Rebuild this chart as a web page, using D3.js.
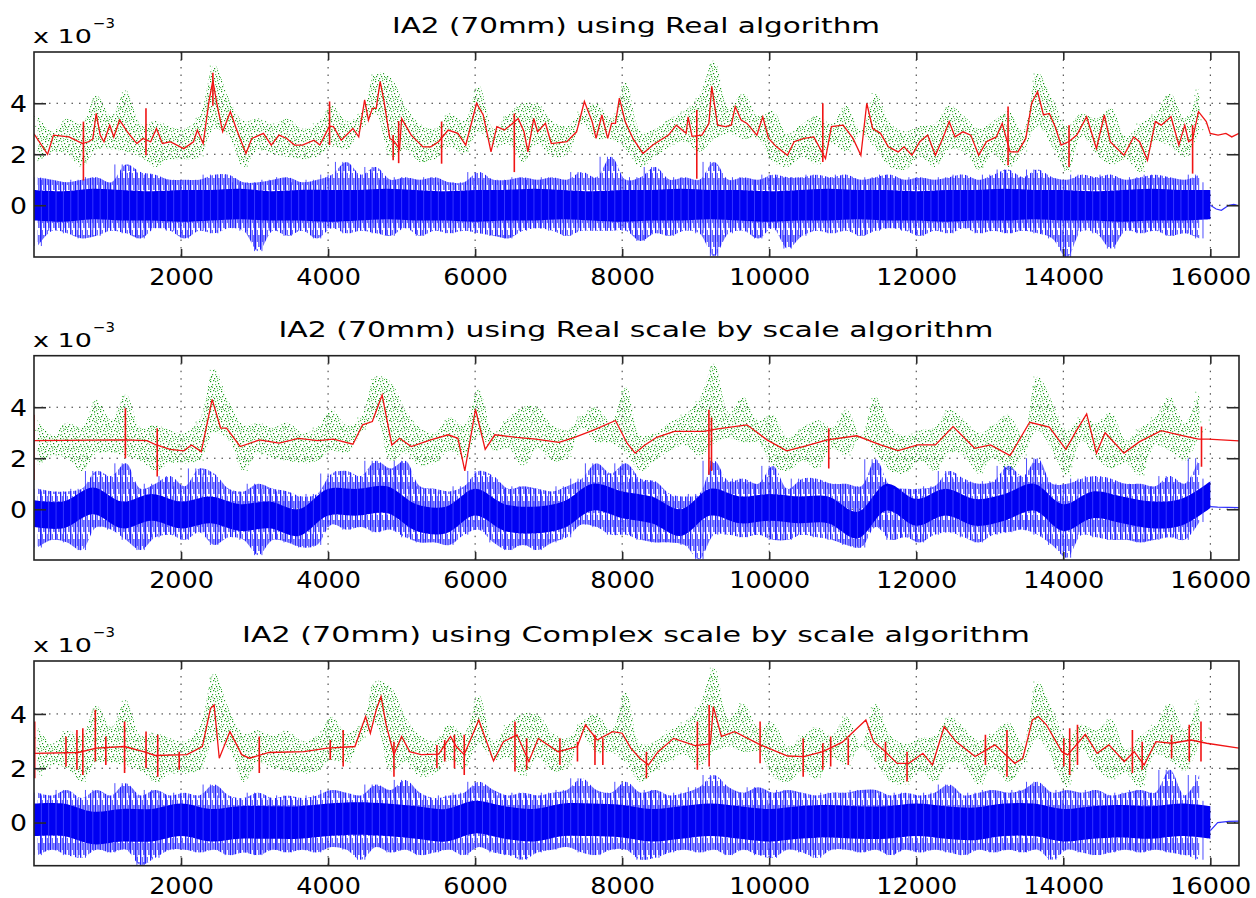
<!DOCTYPE html>
<html><head><meta charset="utf-8">
<script src="https://cdn.jsdelivr.net/npm/d3@7"></script>
<style>body{margin:0;background:#fff}svg{display:block}</style>
</head><body>
<svg id="c" width="1256" height="898"></svg>
<script>
// ---------- data (values in units of 1e-3) ----------
const titles = ["IA2 (70mm) using Real algorithm",
                "IA2 (70mm) using Real scale by scale algorithm",
                "IA2 (70mm) using Complex scale by scale algorithm"];
const xTicks = [2000,4000,6000,8000,10000,12000,14000,16000];
const yTicks = [0,2,4];

// measured samples (green dots): band extremes every 100 samples, alternating high / low
const green = [3.5,1.7,2.9,2.1,3.4,2.0,3.2,1.5,4.3,2.2,
3.5,2.2,4.5,2.1,3.2,1.9,3.3,1.5,3.1,1.8,
3.0,1.8,3.5,1.9,5.5,3.0,4.2,2.7,3.3,1.5,
3.4,2.2,3.2,2.0,3.4,1.9,3.0,1.8,3.2,1.9,
3.9,2.3,3.3,2.2,3.6,3.0,5.2,3.6,5.0,1.9,
3.9,2.2,3.2,1.7,3.0,1.8,3.6,2.3,3.3,2.0,
4.7,2.9,3.0,2.3,3.6,2.4,4.0,1.7,4.0,2.4,
3.3,1.9,3.1,2.0,3.7,3.2,4.0,2.6,3.4,2.6,
4.8,2.2,2.9,1.5,3.0,1.9,3.4,2.3,3.7,2.5,
4.3,2.1,5.7,2.6,3.8,2.8,4.4,2.6,3.5,2.6,
3.7,1.7,2.8,1.5,3.2,1.9,3.5,1.6,3.2,2.4,
3.9,2.1,2.9,2.8,4.4,2.2,3.2,1.5,2.9,1.4,
3.1,1.9,3.2,1.5,3.9,2.2,3.5,2.1,3.0,1.4,
3.3,2.0,3.7,1.5,2.9,2.1,5.2,3.1,4.2,2.3,
3.1,1.3,3.6,2.7,3.4,2.0,3.8,1.6,2.7,1.8,
3.2,1.3,3.6,2.5,4.4,2.3,3.4,1.9,4.6,2.9,
3.6];

// ---- panel 1: Real algorithm ----
const red1 = [[0,2.8],[185,2.0],[265,2.75],[476,2.68],[660,2.42],[740,2.49],[800,2.6],[846,3.6],[900,2.75],[952,2.49],[1030,3.14],[1085,2.68],[1164,3.34],[1270,2.88],[1400,2.42],[1480,2.62],[1587,2.49],[1666,3.01],[1746,2.42],[1851,2.49],[2037,2.22],[2169,2.49],[2222,2.95],[2301,2.42],[2380,4.07],[2433,4.9],[2486,4.0],[2566,2.88],[2671,3.67],[2750,3.01],[2883,2.03],[2962,2.62],[3121,2.82],[3227,2.36],[3333,2.75],[3438,2.62],[3544,2.36],[3650,2.36],[3809,2.55],[3888,2.36],[4020,3.1],[4073,3.08],[4179,2.55],[4338,3.01],[4417,2.68],[4497,4.13],[4549,3.34],[4602,3.8],[4655,3.8],[4708,4.86],[4761,4.07],[4840,2.62],[4900,2.5],[4973,2.2],[5000,3.4],[5052,3.14],[5131,2.75],[5290,2.29],[5396,2.29],[5502,2.49],[5634,2.95],[5766,2.82],[5872,2.36],[6020,4.0],[6110,3.54],[6216,2.09],[6295,3.08],[6400,2.95],[6480,3.14],[6586,3.4],[6665,2.88],[6718,2.09],[6797,3.4],[6850,2.88],[6956,3.21],[7036,2.42],[7247,2.49],[7380,2.88],[7486,4.07],[7592,3.28],[7645,2.62],[7724,3.54],[7803,2.62],[7856,3.21],[7909,3.21],[7962,4.2],[8041,3.28],[8150,2.6],[8283,2.03],[8417,2.36],[8630,2.75],[8737,3.14],[8870,2.82],[8897,3.47],[8950,2.7],[9084,2.75],[9180,3.2],[9218,4.66],[9298,3.14],[9404,3.08],[9484,3.14],[9538,3.87],[9618,3.34],[9698,3.21],[9832,2.75],[9912,3.47],[9992,2.62],[10099,2.29],[10248,1.96],[10339,2.49],[10473,2.62],[10606,2.68],[10766,1.83],[10846,3.08],[11006,3.14],[11140,2.62],[11247,1.96],[11327,4.0],[11407,3.01],[11514,2.82],[11620,2.29],[11754,2.09],[11834,2.29],[11941,1.96],[12048,2.49],[12155,2.75],[12261,1.96],[12368,2.68],[12448,3.28],[12528,2.68],[12635,2.88],[12742,2.75],[12849,1.96],[12955,2.49],[13089,2.68],[13169,3.21],[13276,2.09],[13383,2.09],[13490,2.62],[13570,4.0],[13650,4.46],[13730,3.54],[13810,3.6],[13890,3.08],[13970,2.36],[14078,2.5],[14184,2.75],[14318,3.47],[14451,2.22],[14558,3.54],[14638,2.49],[14825,1.96],[14958,2.68],[15038,2.49],[15145,1.76],[15252,3.28],[15332,3.14],[15465,3.47],[15572,2.36],[15652,3.14],[15705,2.49],[15759,2.6],[15839,3.67],[15945,3.28],[15998,2.82],[16105,2.75],[16212,2.82],[16292,2.68],[16390,2.82]];
const redSpikes1 = [[672,3.28,0.97],[1523,3.8,1.96],[2433,5.2,3.9],[4020,4.07,2.36],[4885,2.75,1.76],[4960,3.3,1.65],[5544,3.28,1.63],[6533,3.6,1.3],[9015,3.74,1.04],[10729,4.0,1.7],[13249,3.87,1.57],[14078,3.14,1.5],[15759,3.14,1.24]];
const blue1 = [1.1,-1.6,1.0,-1.0,0.9,-1.1,1.0,-1.3,1.1,-1.2,
0.9,-1.0,1.6,-1.1,1.3,-1.3,1.2,-0.9,1.0,-1.0,
1.0,-1.3,1.0,-1.0,1.2,-1.1,1.2,-0.9,0.9,-1.0,
0.9,-1.8,1.0,-1.0,1.1,-1.2,0.9,-1.0,1.0,-1.3,
1.2,-0.9,1.7,-1.1,1.2,-1.0,1.5,-1.1,1.0,-1.2,
1.1,-0.9,1.0,-1.2,1.1,-1.0,0.9,-1.1,0.9,-1.0,
1.3,-1.1,1.0,-1.2,1.0,-1.3,1.1,-1.0,1.0,-0.9,
1.1,-1.0,1.0,-1.2,1.3,-1.0,1.1,-1.0,1.9,-1.0,
1.0,-1.0,1.1,-1.4,1.5,-1.1,1.0,-1.2,1.1,-1.0,
1.0,-1.1,1.7,-2.0,1.0,-1.1,1.1,-1.0,1.0,-1.3,
1.2,-0.9,1.1,-1.7,1.1,-1.2,1.2,-1.0,1.1,-1.1,
1.2,-1.0,1.0,-1.2,1.1,-1.0,1.2,-0.9,1.0,-1.0,
1.1,-1.2,1.0,-1.0,1.1,-1.1,1.2,-0.9,1.0,-1.1,
1.2,-1.0,1.4,-1.1,1.1,-1.0,1.4,-1.1,1.1,-1.3,
1.0,-2.05,1.2,-1.0,1.1,-1.1,1.2,-1.7,1.0,-1.0,
1.1,-1.1,1.2,-1.0,1.1,-1.2,1.0,-1.1,1.2,-1.3,
0.9];
const blueCoreHi1 = [0.6,0.55,0.65,0.6,0.55,0.6,0.6,0.65,0.55,0.6,0.6,0.6,0.65,0.6,0.55,0.6,0.6,0.65,0.6,0.55,0.6,0.6,0.65,0.6,0.6,0.55,0.6,0.65,0.6,0.6,0.55,0.6,0.6,0.65,0.6,0.6,0.55,0.6,0.65,0.6,0.6];
const blueCoreLo1 = [-0.6,-0.65,-0.55,-0.6,-0.6,-0.65,-0.6,-0.55,-0.6,-0.6,-0.65,-0.6,-0.55,-0.6,-0.6,-0.65,-0.6,-0.6,-0.55,-0.6,-0.65,-0.6,-0.6,-0.55,-0.6,-0.65,-0.6,-0.6,-0.55,-0.6,-0.6,-0.65,-0.6,-0.6,-0.55,-0.6,-0.6,-0.65,-0.6,-0.6,-0.55];
const blueTail1 = [[16000,0],[16080,-0.15],[16150,-0.2],[16250,0.0],[16320,0.03],[16390,-0.02]];

// ---- panel 2: Real scale by scale ----
const red2 = [[0,2.69],[1243,2.72],[1534,2.69],[1666,2.52],[1851,2.35],[2037,2.29],[2143,2.52],[2275,2.26],[2423,4.31],[2539,3.18],[2619,3.18],[2804,2.46],[3068,2.72],[3333,2.59],[3597,2.78],[3862,2.69],[4073,2.75],[4338,2.55],[4470,3.31],[4602,3.44],[4735,4.48],[4867,2.52],[4973,2.78],[5131,2.46],[5396,2.72],[5634,2.92],[5766,2.78],[5860,1.5],[6005,3.92],[6137,2.35],[6269,2.92],[6560,2.82],[6824,2.75],[7141,2.62],[7353,2.82],[7618,3.11],[7909,3.48],[8067,2.59],[8176,2.2],[8310,2.52],[8470,2.82],[8710,3.05],[9110,3.05],[9298,3.15],[9698,3.31],[9970,2.72],[10238,2.29],[10500,2.48],[10790,2.72],[11190,2.88],[11514,2.52],[11754,2.3],[12021,2.52],[12261,2.52],[12501,3.24],[12795,2.39],[13009,2.52],[13276,2.1],[13543,3.41],[13810,3.22],[14035,2.35],[14185,3.11],[14318,3.74],[14451,2.2],[14569,3.0],[14825,2.2],[15038,2.65],[15332,3.08],[15572,2.92],[15839,2.75],[15972,2.75],[16390,2.68]];
const redSpikes2 = [[0,3.7,1.15],[1243,3.96,2.0],[1676,3.18,1.28],[9180,3.9,1.35],[9215,3.6,1.5],[10810,3.18,1.6],[15880,3.24,1.67]];
const blue2 = [0.8,-1.5,0.7,-1.2,0.7,-1.3,0.8,-1.6,1.5,-0.7,
1.3,-0.8,1.8,-1.2,0.8,-1.6,1.0,-1.1,1.3,-1.0,
0.9,-1.2,1.6,-0.9,1.4,-1.4,0.8,-1.1,0.7,-1.2,
1.0,-1.8,0.8,-1.2,0.7,-1.3,0.5,-1.5,0.6,-1.4,
1.4,-0.6,1.5,-0.8,1.3,-0.7,1.9,-0.9,1.6,-0.8,
1.9,-1.1,0.9,-1.3,0.8,-1.3,0.7,-1.4,0.9,-1.0,
1.5,-0.8,1.3,-1.3,0.8,-1.6,0.9,-1.4,0.8,-1.6,
0.7,-1.3,0.9,-1.1,1.2,-0.6,1.8,-0.7,1.4,-1.0,
1.8,-1.0,1.2,-1.2,1.1,-1.3,0.6,-1.3,0.5,-1.4,
0.6,-1.96,1.9,-1.0,1.1,-1.0,1.2,-1.1,1.0,-1.0,
1.7,-1.2,0.8,-1.2,1.2,-1.0,1.2,-1.1,1.0,-1.2,
1.0,-1.4,0.9,-1.5,1.96,-0.7,0.9,-1.2,0.8,-1.1,
0.8,-1.3,0.9,-1.0,1.5,-0.9,1.2,-1.1,1.0,-1.3,
1.1,-1.0,1.7,-0.9,1.3,-0.8,2.0,-1.0,1.0,-1.4,
1.0,-1.9,1.2,-1.0,1.3,-1.1,1.2,-1.2,1.0,-1.2,
1.0,-1.3,0.9,-1.2,1.3,-1.1,1.0,-1.2,2.0,-0.5,
1.2];
const blueCoreHi2 = [0.35,0.3,0.85,0.3,0.6,0.3,0.5,0.2,0.3,0.0,0.8,0.8,0.9,0.2,0.1,0.8,0.2,0.1,0.3,1.0,0.7,0.5,0.0,0.8,0.5,0.6,0.5,0.5,-0.1,1.0,0.4,0.8,0.4,0.6,1.0,0.2,0.7,0.5,0.3,0.4,1.1];
const blueCoreLo2 = [-0.7,-0.75,-0.2,-0.75,-0.45,-0.75,-0.55,-0.85,-0.75,-1.05,-0.25,-0.25,-0.15,-0.85,-0.95,-0.25,-0.85,-0.95,-0.75,-0.05,-0.35,-0.55,-1.05,-0.25,-0.55,-0.45,-0.55,-0.55,-1.15,-0.05,-0.65,-0.25,-0.65,-0.45,-0.05,-0.85,-0.35,-0.55,-0.75,-0.65,0.05];
const blueTail2 = [[16000,0.1],[16100,0.08],[16390,0.06]];

// ---- panel 3: Complex scale by scale ----
const red3 = [[0,2.55],[600,2.58],[850,2.74],[1230,2.8],[1490,2.61],[1650,2.47],[2080,2.5],[2290,2.8],[2400,4.2],[2450,4.33],[2520,2.37],[2665,3.35],[2825,2.5],[2930,2.37],[3195,2.58],[3670,2.61],[3990,2.74],[4365,2.8],[4510,3.9],[4575,3.29],[4655,4.15],[4720,4.64],[4790,3.6],[4895,2.5],[5000,3.17],[5110,2.61],[5265,2.5],[5505,2.52],[5665,3.17],[5745,2.8],[5850,2.5],[6050,3.78],[6250,2.27],[6385,2.98],[6570,3.23],[6730,2.25],[6860,3.1],[7130,2.61],[7390,2.8],[7500,3.6],[7660,3.04],[7870,3.35],[8000,3.29],[8117,2.74],[8240,2.37],[8357,2.12],[8490,2.61],[8700,3.1],[8990,2.83],[9200,2.9],[9240,4.27],[9350,3.17],[9530,3.35],[9880,2.86],[10250,2.45],[10470,2.43],[10730,2.61],[10995,2.96],[11315,3.78],[11420,2.98],[11580,2.61],[11740,2.18],[11900,2.18],[12090,2.55],[12220,2.12],[12380,3.53],[12540,2.98],[12800,2.43],[13070,2.86],[13340,2.18],[13450,2.37],[13580,3.78],[13660,3.9],[13770,3.6],[13980,2.61],[14060,2.49],[14300,3.25],[14460,2.55],[14620,2.86],[14830,2.25],[14965,2.61],[15100,2.12],[15260,2.98],[15470,2.92],[15740,3.04],[15950,2.92],[16390,2.74]];
const redSpikes3 = [[10,3.72,1.63],[435,3.17,2.06],[584,3.41,1.94],[664,3.47,1.75],[834,4.15,2.25],[977,3.17,2.12],[1232,3.72,1.82],[1524,3.35,2.0],[1683,3.23,1.69],[1975,2.61,1.94],[3064,3.17,1.82],[4030,3.04,2.31],[4205,3.41,2.06],[4896,2.98,1.69],[5480,2.86,2.0],[5586,3.04,2.25],[5719,3.23,2.0],[5852,3.23,1.75],[6542,3.72,1.88],[6701,3.1,1.94],[7153,3.1,2.12],[7392,2.98,2.25],[7630,3.23,2.12],[7737,3.1,2.12],[8330,2.61,1.63],[9023,3.72,1.94],[9183,4.33,2.06],[9876,3.72,2.18],[10462,3.1,1.69],[10729,2.92,1.94],[10836,3.17,2.06],[11075,3.1,2.12],[11582,2.98,2.25],[11875,2.61,1.51],[12941,3.23,2.12],[13234,3.41,1.69],[14007,3.1,2.06],[14087,3.47,1.75],[14193,3.6,2.12],[14940,3.41,1.82],[15073,2.98,1.94],[15473,3.23,2.37],[15713,3.6,2.25],[15873,3.72,2.25]];
const blue3 = [1.1,-1.2,1.0,-1.0,1.2,-1.2,0.9,-1.3,1.2,-1.0,
1.0,-1.1,1.45,-1.0,1.0,-1.56,1.2,-1.3,1.0,-1.0,
1.1,-1.0,1.0,-1.1,1.4,-1.0,1.0,-1.2,0.9,-1.1,
1.1,-1.2,0.9,-1.0,1.0,-1.1,0.9,-1.0,1.0,-1.1,
1.2,-0.9,1.1,-1.0,1.0,-1.37,1.4,-0.9,1.2,-1.1,
1.57,-1.0,1.1,-1.2,0.9,-1.1,1.0,-1.0,1.1,-1.2,
1.5,-0.9,1.2,-1.1,1.0,-1.2,1.1,-1.37,1.0,-1.1,
1.1,-1.0,1.2,-0.9,1.63,-1.1,1.2,-1.2,1.1,-1.0,
1.5,-1.0,1.1,-1.37,1.2,-1.3,1.0,-1.1,1.1,-1.0,
1.3,-1.1,1.75,-1.0,1.3,-1.2,1.1,-1.0,1.3,-1.2,
1.1,-1.3,1.2,-1.0,1.1,-1.1,1.0,-1.3,1.1,-1.0,
1.1,-1.0,1.2,-1.1,1.2,-1.0,1.0,-1.2,1.1,-1.0,
1.0,-1.1,1.1,-1.0,1.4,-1.1,1.0,-1.2,1.1,-1.0,
1.2,-1.1,1.1,-1.0,1.2,-1.1,1.5,-1.0,1.1,-1.37,
1.2,-1.0,1.1,-1.1,1.2,-1.2,1.0,-1.1,1.1,-1.0,
1.2,-1.1,1.1,-1.0,1.94,-1.1,1.0,-1.2,1.75,-1.37,
0.8];
const blueCoreHi3 = [0.7,0.7,0.4,0.5,0.5,0.7,0.5,0.6,0.6,0.6,0.7,0.75,0.7,0.6,0.5,0.8,0.6,0.5,0.7,0.7,0.65,0.5,0.6,0.7,0.6,0.5,0.6,0.65,0.6,0.6,0.7,0.6,0.55,0.7,0.7,0.5,0.6,0.65,0.6,0.7,0.6];
const blueCoreLo3 = [-0.5,-0.5,-0.8,-0.7,-0.7,-0.5,-0.7,-0.6,-0.6,-0.6,-0.5,-0.45,-0.5,-0.6,-0.7,-0.4,-0.6,-0.7,-0.5,-0.5,-0.55,-0.7,-0.6,-0.5,-0.6,-0.7,-0.6,-0.55,-0.6,-0.6,-0.5,-0.6,-0.65,-0.5,-0.5,-0.7,-0.6,-0.55,-0.6,-0.5,-0.6];
const blueTail3 = [[16000,-0.3],[16100,0.0],[16250,0.04],[16390,0.05]];

// ---------- layout & style ----------
const panels = [
  {title: titles[0], red: red1, spikes: redSpikes1, blue: blue1, coreHi: blueCoreHi1, coreLo: blueCoreLo1, tail: blueTail1},
  {title: titles[1], red: red2, spikes: redSpikes2, blue: blue2, coreHi: blueCoreHi2, coreLo: blueCoreLo2, tail: blueTail2},
  {title: titles[2], red: red3, spikes: redSpikes3, blue: blue3, coreHi: blueCoreHi3, coreLo: blueCoreLo3, tail: blueTail3}
];
const layout = [
  {top: 52,    bottom: 257,   ymin: -2.03, ymax: 6.01, titleLen: 488},
  {top: 355.7, bottom: 560,   ymin: -1.99, ymax: 6.02, titleLen: 715},
  {top: 661,   bottom: 865.7, ymin: -1.59, ymax: 5.95, titleLen: 788}
];
const FONT = "'DejaVu Sans', Verdana, sans-serif";
const LEFT = 34, RIGHT = 1239;
const GREEN_STEP = 100, BLUE_STEP = 100, CORE_STEP = 400;

const svg = d3.select('#c');
svg.append('rect').attr('width',1256).attr('height',898).attr('fill','#fff');
const defs = svg.append('defs');

// texture for the green scatter band
const gp = defs.append('pattern').attr('id','greenDots').attr('patternUnits','userSpaceOnUse')
  .attr('width',11).attr('height',10);
[[1,1,'#139613'],[6,1,'#4cbc4c'],[9,3,'#118f11'],[3,4,'#2fa82f'],[7,6,'#1a9c1a'],
 [0,7,'#5ec45e'],[5,8,'#159515'],[10,9,'#3cb23c'],[4,0,'#22a222'],[8,0,'#55c055'],
 [2,6,'#1c991c'],[6,4,'#66c866'],[10,6,'#27a027'],[1,9,'#3fb53f'],[8,8,'#7fd27f']]
  .forEach(([a,b,c]) => gp.append('rect').attr('x',a).attr('y',b).attr('width',1.2).attr('height',1.2).attr('fill',c));
// texture for the blue noise fringe
const bp = defs.append('pattern').attr('id','blueHatch').attr('patternUnits','userSpaceOnUse')
  .attr('width',5).attr('height',19);
[[0,0,1.3,19,'#1e1eff'],[1.8,2,1,12,'#4848ff'],[3.3,7,1.2,12,'#2a2aff']]
  .forEach(([a,b,w,h,c]) => bp.append('rect').attr('x',a).attr('y',b).attr('width',w).attr('height',h).attr('fill',c));

const x = d3.scaleLinear().domain([0, 16390]).range([LEFT, RIGHT]);
// reshape an alternating high/low list into [x, high, low] rows
const envelope = (arr, step) => d3.range(Math.floor(arr.length / 2)).map(j => [(2 * j + 0.5) * step, arr[2 * j], arr[2 * j + 1]]);

panels.forEach((p, k) => {
  const L = layout[k];
  const y = d3.scaleLinear().domain([L.ymin, L.ymax]).range([L.bottom, L.top]);
  const clipId = 'clip' + k;
  svg.append('clipPath').attr('id', clipId).append('rect')
    .attr('x', LEFT).attr('y', L.top).attr('width', RIGHT - LEFT).attr('height', L.bottom - L.top);
  const plot = svg.append('g').attr('clip-path', `url(#${clipId})`);

  // grid
  plot.selectAll('.vg').data(xTicks).join('line')
    .attr('x1', d => x(d)).attr('x2', d => x(d)).attr('y1', L.top).attr('y2', L.bottom)
    .attr('stroke', '#333').attr('stroke-width', 1).attr('stroke-dasharray', '1.5,6');
  plot.selectAll('.hg').data(yTicks).join('line')
    .attr('x1', LEFT).attr('x2', RIGHT).attr('y1', d => y(d)).attr('y2', d => y(d))
    .attr('stroke', '#333').attr('stroke-width', 1).attr('stroke-dasharray', '1.5,6');

  // green measured samples: scatter band between extremes + sparse outliers
  const areaEnv = d3.area().x(d => x(d[0])).y0(d => y(d[2])).y1(d => y(d[1])).curve(d3.curveCatmullRom);
  plot.append('path').datum(envelope(green, GREEN_STEP)).attr('d', areaEnv).attr('fill', 'url(#greenDots)');
  plot.append('path').datum(green)
    .attr('d', d3.line().x((d, i) => x(i * GREEN_STEP)).y(d => y(d)))
    .attr('fill', 'none').attr('stroke', '#3cb43c').attr('stroke-width', 1.1)
    .attr('stroke-dasharray', '1,9').attr('opacity', 0.8);

  // blue residual: fringe, core, spikes
  plot.append('path').datum(envelope(p.blue, BLUE_STEP)).attr('d', areaEnv).attr('fill', 'url(#blueHatch)');
  const core = p.coreHi.map((h, i) => [i * CORE_STEP, h, p.coreLo[i]]);
  plot.append('path').datum(core)
    .attr('d', d3.area().x(d => x(d[0])).y0(d => y(d[2])).y1(d => y(d[1])).curve(d3.curveCatmullRom))
    .attr('fill', '#0000f2');
  plot.selectAll('.bs').data(d3.pairs(p.blue)).join('line')
    .attr('x1', (d, i) => x(i * BLUE_STEP)).attr('x2', (d, i) => x(i * BLUE_STEP))
    .attr('y1', d => y(d[0])).attr('y2', d => y(d[1]))
    .attr('stroke', '#3a3aff').attr('stroke-width', 0.9);
  plot.append('path').datum(p.tail)
    .attr('d', d3.line().x(d => x(d[0])).y(d => y(d[1])))
    .attr('fill', 'none').attr('stroke', '#3030ff').attr('stroke-width', 1.2);

  // red fit
  plot.append('path').datum(p.red)
    .attr('d', d3.line().x(d => x(d[0])).y(d => y(d[1])))
    .attr('fill', 'none').attr('stroke', '#f01414').attr('stroke-width', 1.3);
  plot.selectAll('.sp').data(p.spikes).join('line')
    .attr('x1', d => x(d[0])).attr('x2', d => x(d[0]))
    .attr('y1', d => y(d[1])).attr('y2', d => y(d[2]))
    .attr('stroke', '#f01414').attr('stroke-width', 1.6);

  // axes
  const gb = svg.append('g').attr('transform', `translate(0,${L.bottom})`)
    .call(d3.axisBottom(x).tickValues(xTicks).tickFormat(d3.format('d')).tickSize(-8).tickSizeOuter(0));
  const gt = svg.append('g').attr('transform', `translate(0,${L.top})`)
    .call(d3.axisTop(x).tickValues(xTicks).tickFormat('').tickSize(-8).tickSizeOuter(0));
  const gl = svg.append('g').attr('transform', `translate(${LEFT},0)`)
    .call(d3.axisLeft(y).tickValues(yTicks).tickFormat(d3.format('d')).tickSize(-12).tickSizeOuter(0));
  const gr = svg.append('g').attr('transform', `translate(${RIGHT},0)`)
    .call(d3.axisRight(y).tickValues(yTicks).tickFormat('').tickSize(-12).tickSizeOuter(0));
  [gb, gt, gl, gr].forEach(g => {
    g.select('.domain').remove();
    g.selectAll('line').attr('stroke', '#2a2a2a').attr('stroke-width', 1.6);
  });
  gb.selectAll('text').attr('y', 28).attr('dy', null)
    .attr('font-size', 23).attr('font-family', FONT).attr('fill', '#000')
    .attr('textLength', d => String(d).length * 16.2).attr('lengthAdjust', 'spacingAndGlyphs');
  gl.selectAll('text').attr('x', -7).attr('dy', '0.36em')
    .attr('font-size', 23).attr('font-family', FONT).attr('fill', '#000')
    .attr('textLength', 17).attr('lengthAdjust', 'spacingAndGlyphs');

  // frame
  svg.append('rect').attr('x', LEFT).attr('y', L.top).attr('width', RIGHT - LEFT).attr('height', L.bottom - L.top)
    .attr('fill', 'none').attr('stroke', '#222').attr('stroke-width', 1.6);

  // title
  svg.append('text').attr('x', 636).attr('y', L.top - 19).attr('text-anchor', 'middle')
    .attr('font-family', FONT).attr('font-size', 22).attr('fill', '#000')
    .attr('textLength', L.titleLen).attr('lengthAdjust', 'spacingAndGlyphs').text(p.title);

  // exponent
  svg.append('text').attr('x', 33).attr('y', L.top - 9)
    .attr('font-family', FONT).attr('font-size', 20).attr('fill', '#000')
    .attr('textLength', 59).attr('lengthAdjust', 'spacingAndGlyphs').text('x 10');
  svg.append('text').attr('x', 93).attr('y', L.top - 24)
    .attr('font-family', FONT).attr('font-size', 14).attr('fill', '#000')
    .attr('textLength', 22).attr('lengthAdjust', 'spacingAndGlyphs').text('\u22123');
});
</script>
</body></html>
